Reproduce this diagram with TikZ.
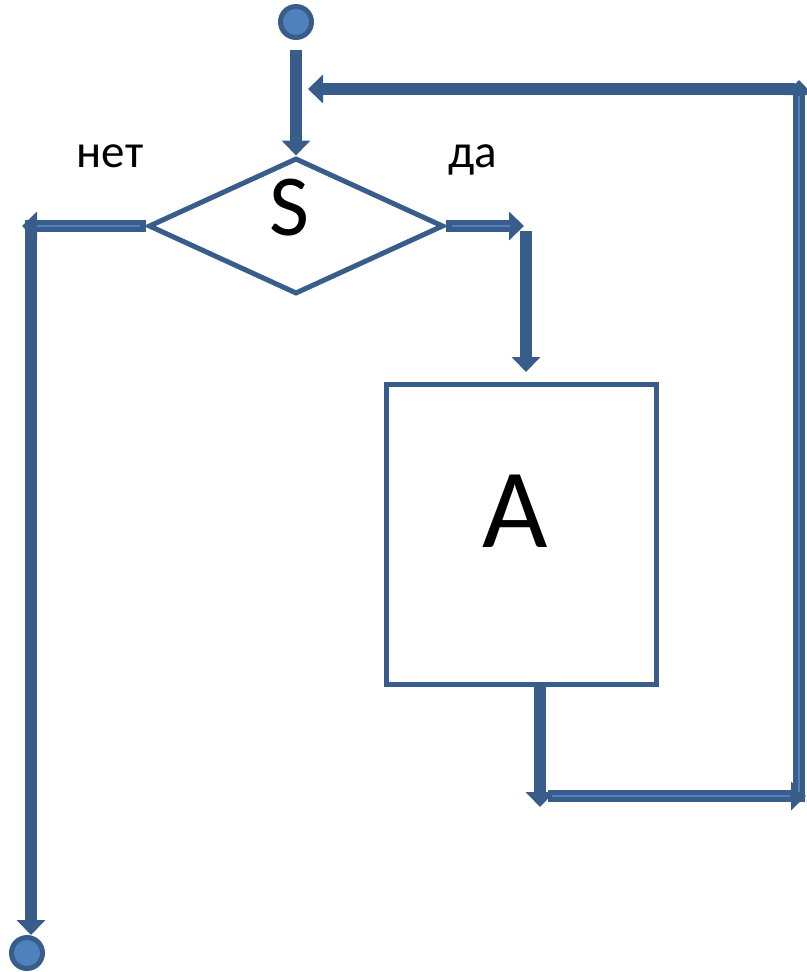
\documentclass[tikz,border=0pt]{standalone}
\usepackage{fontspec}
\setmainfont{Carlito}
\usetikzlibrary{arrows.meta,shapes.geometric}
\definecolor{dk}{RGB}{56,93,138}
\definecolor{lt}{RGB}{79,129,189}
\begin{document}
\begin{tikzpicture}[x=1pt,y=-1pt,
  blk/.style={draw=dk, line width=12.5pt, -{Triangle[width=28pt,length=15pt]}},
  hl/.style={draw=lt, line width=2.5pt},
  term/.style={circle, draw=dk, fill=lt, line width=5pt, minimum size=31pt, inner sep=0pt},
  dec/.style={diamond, draw=dk, line width=5pt, minimum width=295pt, minimum height=136pt, inner sep=0pt},
  proc/.style={rectangle, draw=dk, line width=5pt, minimum width=270pt, minimum height=300pt, inner sep=0pt},
  lbl/.style={anchor=base, inner sep=0pt, text=black}]
\useasboundingbox (0,0) rectangle (806,972);
\node[term] (start) at (296,22) {};
\node[dec] (S) at (296,226) {};
\node[proc] (A) at (521,534) {};
\node[term] (end) at (27,953) {};

\node[lbl, font=\fontsize{47}{50}\selectfont] (tno) at (110,167) {нет};
\node[lbl, font=\fontsize{47}{50}\selectfont] (tyes) at (473,167) {да};
\node[lbl, font=\fontsize{87}{90}\selectfont] (tS) at (289,235) {S};
\node[lbl, font=\fontsize{113}{116}\selectfont] (tA) at (515,547) {A};

% start -> S
\draw[blk, shorten <=10pt] (start.south) -- (S.north);

% no branch
\coordinate (nL) at (22,226);
\coordinate (nLtop) at (31,220);
\draw[blk] (S.west) -- (nL);
\draw[hl] (140,226) -- (36,226);
\draw[blk] (nLtop) -- (nLtop |- end.north);

% yes branch
\coordinate (nR) at (524,226);
\draw[blk] (S.east) -- (nR);
\draw[hl] (452,226) -- (510,226);
\coordinate (dT) at (526,231);
\coordinate (dB) at (526,372);
\draw[blk] (dT) -- (dB);

% A -> loop back
\coordinate (b1) at (540,807);
\draw[blk] (b1 |- A.south) -- (b1);
\coordinate (h1) at (548,796);
\coordinate (h2) at (806,796);
\draw[blk] (h1) -- (h2);
\draw[hl] (552,796) -- (790,796);
\coordinate (t1) at (795,89);
\coordinate (t2) at (308,89);
\draw[blk] (t1) -- (t2);
\coordinate (v1) at (799,802);
\coordinate (v2) at (799,80);
\draw[blk] (v1) -- (v2);
\draw[hl] (799,792) -- (799,96);
\end{tikzpicture}
\end{document}
